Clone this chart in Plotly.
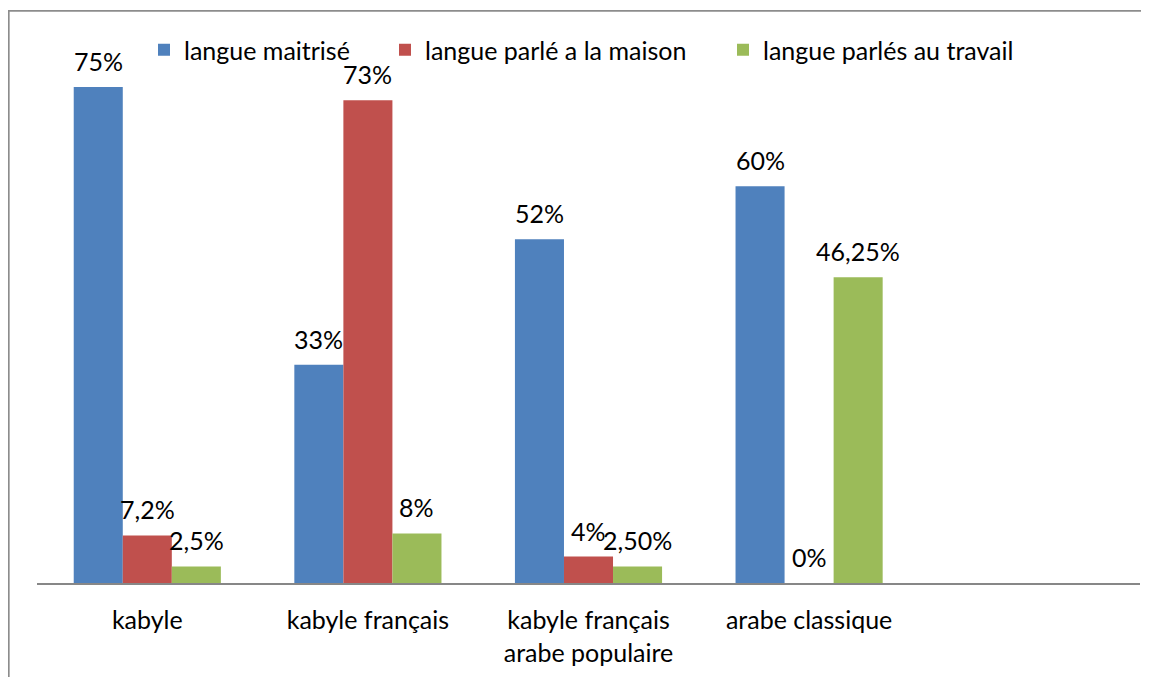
import plotly.graph_objects as go

categories = ["kabyle", "kabyle français", "kabyle français<br>arabe populaire", "arabe classique"]
series_names = ["langue maitrisé", "langue parlé a la maison", "langue parlés au travail"]
maitrise = [75, 33, 52, 60]
maison = [7.2, 73, 4, 0]
travail = [2.5, 7.5, 2.5, 46.25]
labels_maitrise = ["75%", "33%", "52%", "60%"]
labels_maison = ["7,2%", "73%", "4%", "0%"]
labels_travail = ["2,5%", "8%", "2,50%", "46,25%"]

colors = ["#4F81BD", "#C0504D", "#9BBB59"]
FONT = "Lato"
FS = 25
bargap = 0.333
bw = (1 - bargap) / 3

# page is shown with an 8px body margin, so the figure is sized to fit the window
W, H = 1141, 669
ml, mr, mt, mb = 29, 9, 46, 94
pw = W - ml - mr
ph = H - mt - mb

def px_to_paper_x(px):
    return (px - ml) / pw

def px_to_paper_y(py):
    return (H - mb - py) / ph

xs = list(range(len(categories)))
series = [maitrise, maison, travail]
labels = [labels_maitrise, labels_maison, labels_travail]

fig = go.Figure()
for k, (name, vals) in enumerate(zip(series_names, series)):
    lg = "legend" if k == 0 else f"legend{k+1}"
    fig.add_trace(go.Bar(
        x=xs, y=vals, name=name,
        marker=dict(color=colors[k], line=dict(width=0)),
        legend=lg, hoverinfo="skip",
    ))

annotations = []
for k, (vals, labs) in enumerate(zip(series, labels)):
    off = (k - 1) * bw
    for i, (v, t) in enumerate(zip(vals, labs)):
        annotations.append(dict(
            x=i + off, y=v, xref="x", yref="y", text=t, showarrow=False,
            yanchor="middle", yshift=26,
            font=dict(family=FONT, size=FS, color="#000000"),
        ))

legend_x = [136, 377, 715]
legends = {}
for k in range(3):
    key = "legend" if k == 0 else f"legend{k+1}"
    legends[key] = dict(
        x=px_to_paper_x(legend_x[k]), y=px_to_paper_y(42),
        xref="paper", yref="paper",
        xanchor="left", yanchor="middle", orientation="h",
        font=dict(family=FONT, size=FS, color="#000000"),
        bgcolor="rgba(0,0,0,0)", borderwidth=0,
    )

shapes = [
    dict(type="line", xref="paper", yref="paper",
         x0=px_to_paper_x(0.8), x1=px_to_paper_x(0.8),
         y0=px_to_paper_y(2), y1=px_to_paper_y(H + 5),
         line=dict(color="#8C8C8C", width=1.7)),
    dict(type="line", xref="paper", yref="paper",
         x0=px_to_paper_x(0), x1=px_to_paper_x(W + 5),
         y0=px_to_paper_y(2.8), y1=px_to_paper_y(2.8),
         line=dict(color="#8C8C8C", width=1.7)),
]

fig.update_layout(
    width=W, height=H, autosize=False,
    margin=dict(l=ml, r=mr, t=mt, b=mb, pad=0, autoexpand=False),
    paper_bgcolor="white", plot_bgcolor="white",
    barmode="group", bargap=bargap, bargroupgap=0,
    font=dict(family=FONT, size=FS, color="#000000"),
    showlegend=True,
    annotations=annotations,
    shapes=shapes,
    xaxis=dict(
        range=[-0.5, 4.5], tickvals=xs, ticktext=categories,
        showline=True, linecolor="#878787", linewidth=2,
        showgrid=False, zeroline=False, ticks="",
        tickfont=dict(family=FONT, size=FS, color="#000000"),
        ticklabelstandoff=14, automargin=False, fixedrange=True,
    ),
    yaxis=dict(range=[0, 80], visible=False, showgrid=False, zeroline=False,
               fixedrange=True, automargin=False),
    **legends,
)

fig.write_html("out.html")
